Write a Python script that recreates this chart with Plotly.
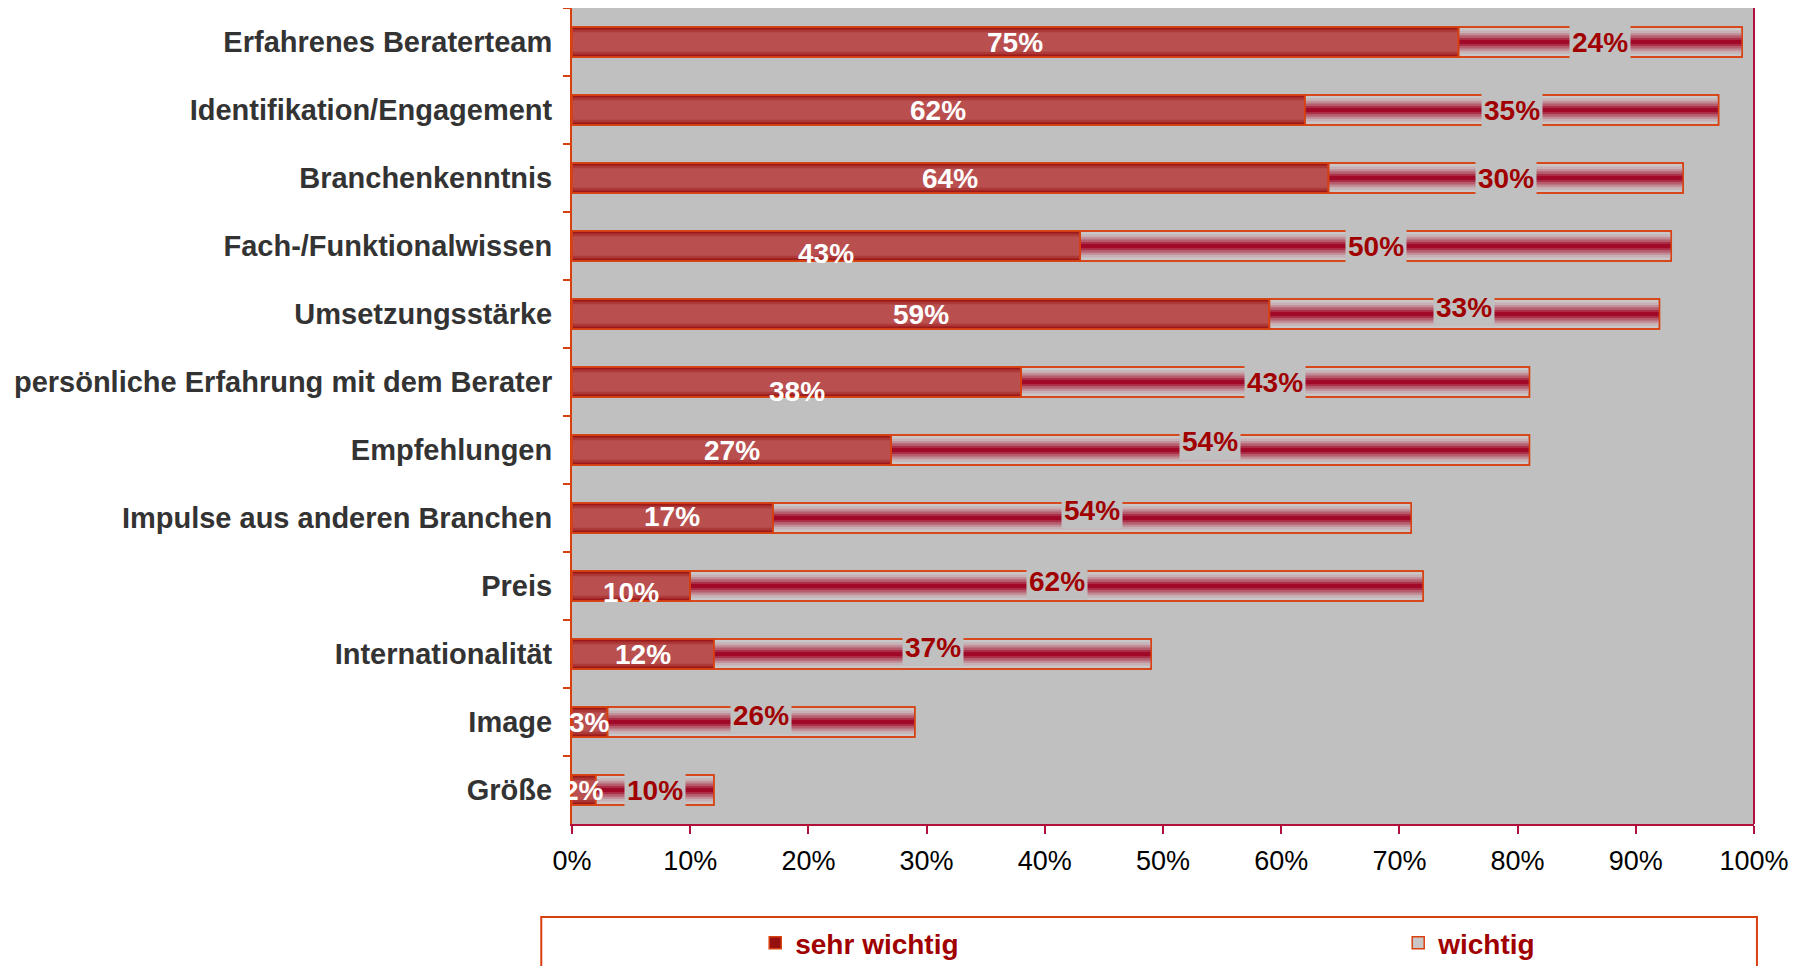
import plotly.graph_objects as go

categories = ["Erfahrenes Beraterteam", "Identifikation/Engagement", "Branchenkenntnis",
              "Fach-/Funktionalwissen", "Umsetzungsstärke", "persönliche Erfahrung mit dem Berater",
              "Empfehlungen", "Impulse aus anderen Branchen", "Preis", "Internationalität",
              "Image", "Größe"]
sehr_wichtig = [75, 62, 64, 43, 59, 38, 27, 17, 10, 12, 3, 2]
wichtig = [24, 35, 30, 50, 33, 43, 54, 54, 62, 37, 26, 10]
x_ticks = [0, 10, 20, 30, 40, 50, 60, 70, 80, 90, 100]

# style-only: label vertical nudges (px)
shift_sehr = [0, 0, 0, -7, 0, -9, 0, 2, -6, 0, 0, 0]
shift_wichtig = [0, 0, 0, 0, 7, 0, 9, 8, 5, 7, 7, 0]

BORDER = "#d84010"
CRIMSON = "#b0103a"
FONT = "Liberation Sans, Arial, sans-serif"
fig = go.Figure()

sehr_bands = [(0.44, "#961010"), (0.40, "#a22424"), (0.35, "#ad3838"), (0.29, "#b94f4f")]
wichtig_bands = [(0.44, "#c9c6c7"), (0.34, "#c6b0b5"), (0.26, "#c08a94"), (0.19, "#b75c6c"),
                 (0.12, "#aa2e47"), (0.06, "#a00a28")]

zeros = [0] * len(categories)
for i, (w, c) in enumerate(sehr_bands):
    fig.add_trace(go.Bar(
        y=categories, x=sehr_wichtig, base=zeros, orientation="h", width=w,
        name="sehr wichtig", legend="legend", showlegend=(i == 0),
        marker=dict(color=c, line=dict(color=BORDER, width=1.5 if i == 0 else 0)),
        hoverinfo="skip"))
for i, (w, c) in enumerate(wichtig_bands):
    fig.add_trace(go.Bar(
        y=categories, x=wichtig, base=sehr_wichtig, orientation="h", width=w,
        name="wichtig", legend="legend2", showlegend=(i == 0),
        marker=dict(color=c, line=dict(color=BORDER, width=1.5 if i == 0 else 0)),
        hoverinfo="skip"))
# outlines on top
fig.add_trace(go.Bar(y=categories, x=sehr_wichtig, base=zeros, orientation="h", width=0.44,
                     showlegend=False, marker=dict(color="rgba(0,0,0,0)", line=dict(color=BORDER, width=1.5)),
                     hoverinfo="skip"))
fig.add_trace(go.Bar(y=categories, x=wichtig, base=sehr_wichtig, orientation="h", width=0.44,
                     showlegend=False, marker=dict(color="rgba(0,0,0,0)", line=dict(color=BORDER, width=1.5)),
                     hoverinfo="skip"))

annotations = []
for i, cat in enumerate(categories):
    s = sehr_wichtig[i]
    w = wichtig[i]
    annotations.append(dict(x=s / 2, y=cat, xref="x", yref="y", text=f"{s}%", showarrow=False,
                            yshift=shift_sehr[i],
                            font=dict(family=FONT, size=28, color="white", weight="bold")))
    annotations.append(dict(x=s + w / 2, y=cat, xref="x", yref="y", text=f"{w}%", showarrow=False,
                            yshift=shift_wichtig[i], bgcolor="#c0c0c0", borderpad=2,
                            font=dict(family=FONT, size=28, color="#a00000", weight="bold")))

legend_common = dict(orientation="h", yanchor="middle", y=-0.146, xanchor="left",
                     bgcolor="rgba(0,0,0,0)",
                     font=dict(family=FONT, size=28, color="#a00000", weight="bold"))

fig.update_layout(
    width=1796, height=958,
    margin=dict(l=564, r=50, t=0, b=142, autoexpand=False),
    paper_bgcolor="white", plot_bgcolor="#c0c0c0",
    barmode="overlay",
    showlegend=True,
    legend=dict(x=0.155, **legend_common),
    legend2=dict(x=0.699, **legend_common),
    annotations=annotations,
    shapes=[
        dict(type="line", xref="paper", yref="paper", x0=1, x1=1, y0=0, y1=1,
             line=dict(color=CRIMSON, width=2)),
        dict(type="rect", xref="paper", yref="paper", x0=-0.026, x1=1.0025, y0=-0.25, y1=-0.114,
             line=dict(color=BORDER, width=2), fillcolor="rgba(0,0,0,0)"),
    ],
    xaxis=dict(range=[0, 100], tickvals=x_ticks, ticktext=[f"{v}%" for v in x_ticks],
               showgrid=False, zeroline=False, showline=True, linecolor=CRIMSON, linewidth=2,
               mirror=True, ticks="outside", ticklen=8, tickwidth=2, tickcolor=CRIMSON,
               ticklabelstandoff=4, automargin=False,
               tickfont=dict(family=FONT, size=27, color="black")),
    yaxis=dict(categoryorder="array", categoryarray=categories, autorange="reversed",
               showgrid=False, zeroline=False, showline=True, linecolor=BORDER, linewidth=2,
               ticks="outside", ticklen=7, tickwidth=2, tickcolor=BORDER, tickson="boundaries",
               ticklabelstandoff=12, automargin=False,
               tickfont=dict(family=FONT, size=29, color="#333333", weight="bold")),
)

fig.write_html("out.html")
